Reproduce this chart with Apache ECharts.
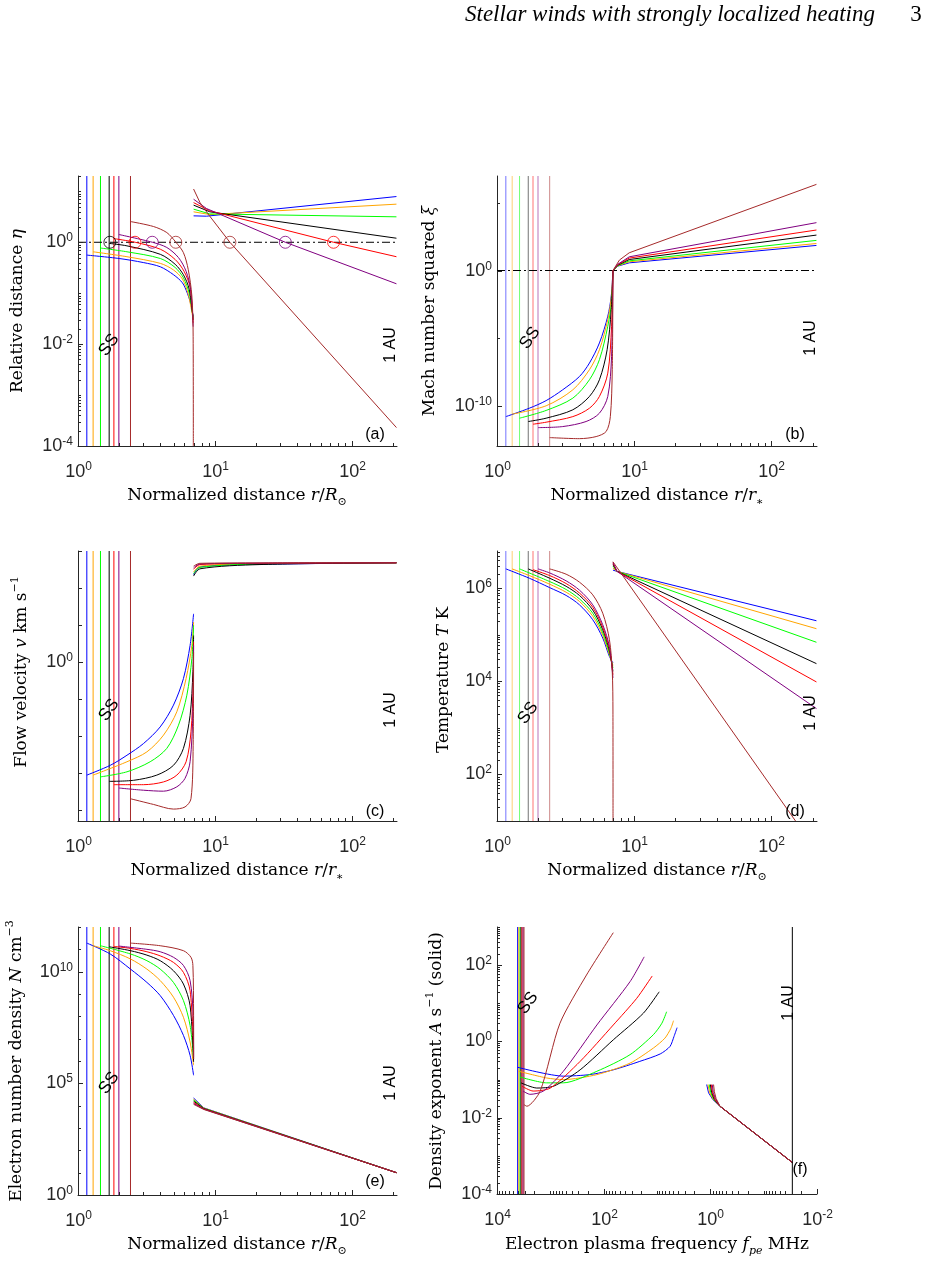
<!DOCTYPE html>
<html><head><meta charset="utf-8">
<script src="https://cdn.jsdelivr.net/npm/echarts@6/dist/echarts.min.js"></script>
<style>html,body{margin:0;padding:0;background:#fff}#c{width:941px;height:1262px}</style>
</head><body><div id="c"></div>
<script>
// ---------------- DATA ----------------
// source-surface radii (r / R_sun) of the seven models: blue, orange, green, black, red, purple, brown
const R_SS = [1.16, 1.29, 1.46, 1.69, 1.83, 1.99, 2.42];
// plasma frequency (MHz) at the source surface, panel (f)
const F_SS = [4100, 3900, 3700, 3550, 3400, 3250, 3120];
const R_1AU_END = 215;
const F_1AU = 0.029;

// (a) relative distance eta: inner branch (SS..7) and outer branch (7..1AU)
const aIn = [
  [[1.16,0.56],[2.0,0.48],[3.0,0.40],[4.0,0.33],[5.0,0.23],[5.8,0.16],[6.3,0.10],[6.7,0.060],[6.95,0.035]],
  [[1.29,0.65],[2.28,0.52],[4.0,0.385],[5.0,0.285],[5.8,0.19],[6.4,0.095],[6.95,0.030]],
  [[1.46,0.77],[2.28,0.65],[4.0,0.48],[5.13,0.32],[5.9,0.20],[6.5,0.10],[6.95,0.033]],
  [[1.69,0.95],[2.28,0.85],[4.0,0.58],[5.13,0.37],[5.9,0.23],[6.5,0.12],[6.95,0.030]],
  [[1.83,1.18],[2.62,1.0],[4.0,0.73],[5.13,0.46],[5.96,0.27],[6.6,0.13],[6.95,0.026]],
  [[1.99,1.42],[3.5,1.0],[4.46,0.79],[5.43,0.50],[6.17,0.27],[6.66,0.12],[6.95,0.022]],
  [[2.42,2.55],[3.56,2.04],[4.46,1.55],[5.2,1.0],[5.9,0.625],[6.4,0.29],[6.8,0.088],[6.95,0.014],[6.97,0.0001]]
];
const aOut = [
  [[7.0,3.3],[8.7,3.25],[213,7.9]],
  [[7.0,3.96],[9.2,3.5],[213,5.6]],
  [[7.0,4.47],[9.2,3.6],[213,3.16]],
  [[7.0,5.36],[9.2,3.96],[213,1.2]],
  [[7.0,6.0],[9.2,4.14],[73.9,1.0],[213,0.52]],
  [[7.0,7.0],[8.7,4.6],[32.8,1.0],[213,0.153]],
  [[7.0,11.1],[7.8,6.0],[9.0,3.5],[12.9,1.0],[213,2.3e-4]]
];
// (a) eta = 1 crossings (circles)
const aCircleR = [1.71, 2.61, 3.49, 5.19, 12.9, 32.8, 73.9];
const aCircleEta = [1, 1, 1, 1, 1, 1, 1];
const aCircleModel = [3, 4, 5, 6, 6, 5, 4];

// (b) Mach number squared xi
const bIn = [
  [[1.16,1.5e-11],[1.72,6.3e-11],[2.28,2.3e-10],[3.01,1.45e-9],[3.99,1.4e-8],[4.72,1.4e-7],[5.58,4.3e-6],[6.42,4.1e-4],[6.8,0.0125],[7.0,1]],
  [[1.29,2.3e-11],[2.28,9.5e-11],[3.57,1.45e-9],[4.72,4.5e-8],[5.58,1.35e-6],[6.42,2.3e-4],[6.8,9.3e-3],[7.0,1]],
  [[1.46,1.15e-11],[2.28,4.3e-11],[3.57,3.5e-10],[4.72,8.1e-9],[5.58,2.5e-7],[6.42,7.4e-5],[6.88,7.1e-3],[7.0,1]],
  [[1.69,6.5e-12],[2.28,1.15e-11],[3.57,4.8e-11],[4.72,4.7e-10],[5.58,8.1e-9],[6.35,1.35e-6],[6.8,1.26e-3],[7.0,1]],
  [[1.83,4.1e-12],[2.28,5.8e-12],[3.57,1.5e-11],[4.72,6.3e-11],[5.58,4.7e-10],[6.42,2.5e-8],[6.84,7.4e-5],[7.0,1]],
  [[1.99,2.3e-12],[3.01,2.75e-12],[4.46,6.5e-12],[5.58,2.7e-11],[6.42,4.7e-10],[6.84,4.4e-7],[7.0,1]],
  [[2.42,4.2e-13],[3.99,3.5e-13],[5.28,5e-13],[6.25,1.2e-12],[6.7,1.5e-11],[6.92,4.5e-8],[7.0,1]]
];
const bOut = [
  [[7.0,1],[7.6,2.1],[9.2,3.7],[213,72]],
  [[7.0,1],[7.6,2.2],[9.2,4.4],[213,100]],
  [[7.0,1],[7.6,2.3],[9.2,5.2],[213,170]],
  [[7.0,1],[7.6,2.5],[9.2,6.5],[213,420]],
  [[7.0,1],[7.6,2.7],[9.2,8.3],[213,1000]],
  [[7.0,1],[7.6,2.9],[9.2,10.3],[213,3500]],
  [[7.0,1],[7.8,5.9],[9.2,20.5],[213,2.4e6]]
];

// (c) flow velocity v (km/s)
const cIn = [
  [[1.16,8.7e-4],[1.72,1.6e-3],[2.28,3.0e-3],[3.01,6.2e-3],[3.99,0.0175],[4.99,0.068],[5.9,0.355],[6.6,2.8],[7.0,20]],
  [[1.29,8.7e-4],[2.28,2.0e-3],[3.19,3.7e-3],[4.22,0.0105],[5.28,0.045],[6.17,0.355],[6.8,2.8],[7.0,12]],
  [[1.46,7.8e-4],[2.28,1.07e-3],[3.37,2.0e-3],[4.46,4.6e-3],[5.43,0.0195],[6.25,0.126],[6.8,1.23],[7.0,9.8]],
  [[1.69,5.9e-4],[2.55,6.3e-4],[3.77,8.7e-4],[4.99,1.6e-3],[5.9,4.6e-3],[6.6,0.036],[6.92,0.54],[7.0,5.2]],
  [[1.83,4.8e-4],[3.01,4.8e-4],[4.22,5.7e-4],[5.28,8.7e-4],[6.17,2.0e-3],[6.7,0.0129],[6.95,0.234],[7.0,3.5]],
  [[1.99,3.9e-4],[3.01,3.4e-4],[4.22,3.2e-4],[5.28,4.2e-4],[6.06,7.1e-4],[6.6,2.0e-3],[6.92,0.045],[7.0,2.8]],
  [[2.42,2.0e-4],[3.57,1.4e-4],[4.99,1.05e-4],[6.06,1.2e-4],[6.7,2.0e-4],[6.95,5.6e-3],[7.0,1.86]]
];
const cOut = [
  [[7.0,230],[7.8,370],[21.4,435],[213,480]],
  [[7.0,270],[7.8,390],[21.4,455],[213,480]],
  [[7.0,245],[7.8,360],[21.4,445],[213,480]],
  [[7.0,210],[7.8,330],[21.4,430],[213,480]],
  [[7.0,320],[7.8,430],[21.4,465],[213,480]],
  [[7.0,350],[7.8,445],[21.4,470],[213,480]],
  [[7.0,390],[7.8,465],[21.4,475],[213,480]]
];

// (d) temperature T (K)
const dIn = [
  [[1.16,2.6e6],[1.72,1.64e6],[2.42,1.03e6],[3.19,7.0e5],[3.99,4.4e5],[4.99,2.1e5],[5.9,8.5e4],[6.6,3.4e4],[7.0,2.5e4]],
  [[1.29,2.6e6],[1.72,1.87e6],[2.42,1.22e6],[3.19,8.2e5],[3.99,5.2e5],[4.99,2.5e5],[5.9,9.7e4],[6.6,3.7e4],[7.0,2.2e4]],
  [[1.46,2.6e6],[2.42,1.39e6],[3.19,9.4e5],[3.99,5.9e5],[4.99,2.9e5],[5.9,1.1e5],[6.6,4.0e4],[7.0,1.93e4]],
  [[1.69,2.6e6],[2.42,1.64e6],[3.19,1.1e6],[3.99,7.0e5],[4.99,3.4e5],[5.9,1.28e5],[6.6,4.5e4],[7.0,1.64e4]],
  [[1.83,2.5e6],[2.42,1.87e6],[3.19,1.26e6],[3.99,7.9e5],[4.99,3.9e5],[5.9,1.44e5],[6.6,5.0e4],[7.0,1.39e4]],
  [[1.99,2.6e6],[2.42,2.13e6],[3.19,1.44e6],[3.99,9.1e5],[4.99,4.4e5],[5.9,1.64e5],[6.6,5.6e4],[7.0,1.18e4]],
  [[2.42,2.6e6],[3.19,2.0e6],[3.99,1.35e6],[4.99,7.2e5],[5.9,2.9e5],[6.6,7.8e4],[6.92,1.64e4],[7.0,2.3e3],[7.01,10]]
];
const dOut = [
  [[7.0,2.45e6],[7.5,2.3e6],[213,2.0e5]],
  [[7.0,2.7e6],[7.5,2.3e6],[213,1.35e5]],
  [[7.0,3.0e6],[7.5,2.3e6],[213,6.9e4]],
  [[7.0,3.2e6],[7.5,2.3e6],[213,2.4e4]],
  [[7.0,3.4e6],[7.5,2.3e6],[213,9.7e3]],
  [[7.0,3.6e6],[7.5,2.3e6],[213,2.6e3]],
  [[7.0,3.7e6],[150,10]]
];

// (e) electron number density N (cm^-3)
const eIn = [
  [[1.16,1.9e11],[1.72,6.2e10],[2.42,1.3e10],[3.19,3.3e9],[3.99,8.5e8],[4.99,1.1e8],[5.9,1.4e7],[6.6,1.8e6],[7.0,2.3e5]],
  [[1.29,1.45e11],[1.72,8.7e10],[2.42,3.7e10],[3.19,1.3e10],[3.99,4.0e9],[4.99,7.2e8],[5.9,9.1e7],[6.6,7.1e6],[7.0,6.5e5]],
  [[1.46,1.45e11],[2.42,6.2e10],[3.19,3.1e10],[3.99,1.3e10],[4.99,3.3e9],[5.9,5.1e8],[6.6,3.9e7],[7.0,1.3e6]],
  [[1.69,1.3e11],[2.42,8.7e10],[3.19,5.5e10],[3.99,3.1e10],[4.99,1.1e10],[5.9,2.8e9],[6.6,3.0e8],[7.0,9.1e5]],
  [[1.83,1.35e11],[2.42,1.1e11],[3.19,7.8e10],[3.99,5.1e10],[4.99,2.6e10],[5.9,9.3e9],[6.6,1.4e9],[7.0,3.5e6]],
  [[1.99,1.4e11],[3.19,1.0e11],[3.99,7.8e10],[4.99,4.4e10],[5.9,1.9e10],[6.6,4.0e9],[6.95,1.1e8],[7.0,1.5e6]],
  [[2.42,1.9e11],[3.99,1.45e11],[5.9,8.7e10],[6.7,4.4e10],[6.92,1.9e10],[7.0,1.1e8],[7.01,1.2e6]]
];
const eOut = [
  [[7.0,2.2e4],[8.3,8.0e3],[213,10]],
  [[7.0,1.95e4],[8.3,7.8e3],[213,10]],
  [[7.0,1.8e4],[8.3,7.6e3],[213,10]],
  [[7.0,1.6e4],[8.3,7.4e3],[213,10]],
  [[7.0,1.4e4],[8.3,7.2e3],[213,10]],
  [[7.0,1.26e4],[8.3,7.0e3],[213,10]],
  [[7.0,1.15e4],[8.3,6.8e3],[213,10]]
];

// (f) density exponent A (s^-1) versus plasma frequency (MHz)
const fIn = [
  [[4100,0.21],[570,0.123],[182,0.135],[66,0.18],[21,0.30],[8.7,0.47],[5.7,0.74],[4.8,1.35],[4.2,2.3]],
  [[3900,0.165],[1170,0.11],[570,0.10],[134,0.135],[32,0.27],[11.7,0.67],[7.1,1.22],[5.5,2.2],[4.9,3.5]],
  [[3700,0.117],[1170,0.082],[570,0.082],[134,0.165],[32,0.45],[11.7,1.5],[8.1,3.0],[6.6,6.0]],
  [[3550,0.082],[1800,0.06],[870,0.067],[276,0.18],[66,1.1],[18,5.5],[9.1,20]],
  [[3400,0.067],[2100,0.05],[1000,0.06],[276,0.30],[66,2.7],[24,13.5],[12.3,52]],
  [[3250,0.05],[2400,0.041],[1350,0.05],[570,0.165],[134,2.7],[32,37],[17.4,165]],
  [[3120,0.022],[2750,0.020],[1550,0.05],[660,3.0],[210,55],[66,710]]
];
const fOut = [
  [[1.17,0.074],[1.08,0.045],[0.9,0.030],[0.66,0.020],[0.029,6.7e-4]],
  [[1.11,0.074],[1.03,0.045],[0.88,0.030],[0.66,0.020],[0.029,6.7e-4]],
  [[1.05,0.074],[0.98,0.045],[0.86,0.030],[0.66,0.020],[0.029,6.7e-4]],
  [[1.0,0.074],[0.94,0.045],[0.84,0.030],[0.66,0.020],[0.029,6.7e-4]],
  [[0.96,0.074],[0.91,0.045],[0.82,0.030],[0.66,0.020],[0.029,6.7e-4]],
  [[0.92,0.074],[0.88,0.046],[0.80,0.031],[0.66,0.020],[0.029,6.7e-4]],
  [[0.87,0.074],[0.84,0.048],[0.78,0.032],[0.66,0.020],[0.029,6.7e-4]]
];

// tick labels (major ticks -> exponent label)
const X_MAJOR = [1, 10, 100];           const X_MAJOR_LAB = ['0', '1', '2'];
const A_Y_MAJOR = [1e-4, 1e-2, 1];       const A_Y_LAB = ['-4', '-2', '0'];
const B_Y_MAJOR = [1e-10, 1];            const B_Y_LAB = ['-10', '0'];
const B_Y_MINOR = [1e-5, 1e5];
const C_Y_MAJOR = [1];                   const C_Y_LAB = ['0'];
const C_Y_DECADES = [1e-4, 1e-3, 1e-2, 0.1, 10, 100, 1000];
const D_Y_MAJOR = [100, 1e4, 1e6];       const D_Y_LAB = ['2', '4', '6'];
const E_Y_MAJOR = [1, 1e5, 1e10];        const E_Y_LAB = ['0', '5', '10'];
const F_Y_MAJOR = [1e-4, 1e-2, 1, 100];  const F_Y_LAB = ['-4', '-2', '0', '2'];
const F_X_MAJOR = [1e4, 100, 1, 0.01];   const F_X_LAB = ['4', '2', '0', '-2'];

// ---------------- STYLE / LAYOUT ----------------
const COLORS = ['#0000ff', '#ffa500', '#00ff00', '#000000', '#ff0000', '#800080', '#a52a2a'];
const AX = '#262626';
const SANS = 'Liberation Sans, Arial, Helvetica, sans-serif';
const SERIF = 'DejaVu Serif, serif';
const GRIDS = [
  {left: 78, top: 176, width: 319, height: 270},
  {left: 497, top: 176, width: 320, height: 270},
  {left: 78, top: 551, width: 319, height: 270},
  {left: 497, top: 551, width: 320, height: 270},
  {left: 78, top: 927, width: 319, height: 268},
  {left: 497, top: 927, width: 320, height: 267}
];
const XR = [[1, 215], [1, 215], [1, 215], [1, 215], [1, 215], [0.01, 1e4]];
const YR = [[1e-4, 20], [1e-13, 1e7], [5e-5, 1e3], [10, 6.3e6], [1, 1e12], [1e-4, 1e3]];
// smoothing per panel: [inner branch, outer branch]
const SMOOTH = [[0.3, false], [0.3, false], [0.3, 0.3], [0.3, false], [0.3, false], [0.25, false]];

function minors(lo, hi, majors, withSub) {
  const out = [];
  const e0 = Math.floor(Math.log10(lo)), e1 = Math.ceil(Math.log10(hi));
  const ms = withSub ? [1, 2, 3, 4, 5, 6, 7, 8, 9] : [1];
  for (let e = e0; e <= e1; e++) {
    ms.forEach(m => {
      const v = m * Math.pow(10, e);
      if (v >= lo * 0.999 && v <= hi * 1.001 && !majors.some(M => Math.abs(M / v - 1) < 1e-6)) out.push(v);
    });
  }
  return out;
}

const TICK_RICH = {
  b: {fontSize: 18, fontFamily: SANS, lineHeight: 22, fill: AX, color: AX},
  s: {fontSize: 12, fontFamily: SANS, lineHeight: 10, verticalAlign: 'top', fill: AX, color: AX}
};
function tickText(exp) { return '{b|10}{s|' + exp + '}'; }

function ticksSeries(gi, axis, major, majorLab, minor, minorLen) {
  const ref = axis === 'x' ? YR[gi][0] : XR[gi][0];
  const items = [];
  major.forEach((v, i) => items.push({v: v, lab: majorLab[i], len: 5}));
  minor.forEach(v => items.push({v: v, lab: null, len: minorLen}));
  return {
    type: 'custom', coordinateSystem: 'cartesian2d', xAxisIndex: gi, yAxisIndex: gi,
    silent: true, clip: false, z: 20, animation: false,
    encode: {x: 0, y: 1},
    data: items.map(t => axis === 'x' ? [t.v, ref] : [ref, t.v]),
    renderItem: function (params, api) {
      const t = items[params.dataIndex];
      const cs = params.coordSys;
      const ch = [];
      if (axis === 'x') {
        const px = Math.round(api.coord([t.v, ref])[0]) + 0.5;
        const yb = cs.y + cs.height;
        ch.push({type: 'line', shape: {x1: px, y1: yb, x2: px, y2: yb - t.len}, style: {stroke: AX, lineWidth: 1}});
        if (t.lab !== null) ch.push({type: 'text', style: {text: tickText(t.lab), rich: TICK_RICH, x: px, y: yb + 15, align: 'center', verticalAlign: 'top'}});
      } else {
        const py = Math.round(api.coord([ref, t.v])[1]) + 0.5;
        const xl = cs.x;
        ch.push({type: 'line', shape: {x1: xl, y1: py, x2: xl + t.len, y2: py}, style: {stroke: AX, lineWidth: 1}});
        if (t.lab !== null) ch.push({type: 'text', style: {text: tickText(t.lab), rich: TICK_RICH, x: xl - 5, y: py, align: 'right', verticalAlign: 'middle'}});
      }
      return {type: 'group', children: ch};
    }
  };
}

function lineSeries(gi, data, color, extra) {
  return Object.assign({
    type: 'line', xAxisIndex: gi, yAxisIndex: gi, data: data,
    showSymbol: false, symbol: 'none', smooth: false,
    lineStyle: {color: color, width: 1}, itemStyle: {color: color},
    animation: false, silent: true, z: 5
  }, extra || {});
}

const series = [];
// SS vertical lines
for (let p = 0; p < 6; p++) {
  const pos = p === 5 ? F_SS : R_SS;
  const op = (p === 1 || p === 3) ? 0.55 : 1;
  pos.forEach((v, k) => {
    series.push(lineSeries(p, [[v, YR[p][0]], [v, YR[p][1]]], COLORS[k], {lineStyle: {color: COLORS[k], width: 1, opacity: op}, z: 3}));
  });
}
// curves
const PANELS = [[aIn, aOut], [bIn, bOut], [cIn, cOut], [dIn, dOut], [eIn, eOut], [fIn, fOut]];
PANELS.forEach((pd, p) => {
  for (let k = 0; k < 7; k++) {
    series.push(lineSeries(p, pd[0][k], COLORS[k], {smooth: SMOOTH[p][0]}));
    series.push(lineSeries(p, pd[1][k], COLORS[k], {smooth: SMOOTH[p][1]}));
  }
});
// dash-dot reference lines at 1 in (a) and (b)
[0, 1].forEach(p => {
  series.push(lineSeries(p, [[XR[p][0], 1], [XR[p][1], 1]], '#000', {lineStyle: {color: '#000', width: 1, type: [8, 3, 2, 3]}, z: 4}));
});
// circles in (a)
series.push({
  type: 'scatter', xAxisIndex: 0, yAxisIndex: 0, symbol: 'circle', symbolSize: 12, silent: true, animation: false, z: 8,
  data: aCircleR.map((r, i) => ({value: [r, aCircleEta[i]], itemStyle: {color: 'rgba(0,0,0,0)', borderColor: COLORS[aCircleModel[i]], borderWidth: 1}}))
});
// 1 AU line in (f)
series.push(lineSeries(5, [[F_1AU, YR[5][0]], [F_1AU, YR[5][1]]], '#000', {z: 6}));

// ticks
for (let p = 0; p < 5; p++) series.push(ticksSeries(p, 'x', X_MAJOR, X_MAJOR_LAB, minors(1, R_1AU_END, X_MAJOR, true), 3));
series.push(ticksSeries(5, 'x', F_X_MAJOR, F_X_LAB, minors(0.01, 1e4, F_X_MAJOR, true), 3));
series.push(ticksSeries(0, 'y', A_Y_MAJOR, A_Y_LAB, minors(1e-4, 20, A_Y_MAJOR, true), 3));
series.push(ticksSeries(1, 'y', B_Y_MAJOR, B_Y_LAB, B_Y_MINOR, 3));
series.push(ticksSeries(2, 'y', C_Y_MAJOR, C_Y_LAB, C_Y_DECADES, 4));
series.push(ticksSeries(3, 'y', D_Y_MAJOR, D_Y_LAB, minors(10, 6.3e6, D_Y_MAJOR, true), 3));
series.push(ticksSeries(4, 'y', E_Y_MAJOR, E_Y_LAB, minors(1, 1e12, E_Y_MAJOR, false), 3));
series.push(ticksSeries(5, 'y', F_Y_MAJOR, F_Y_LAB, minors(1e-4, 1e3, F_Y_MAJOR, true), 3));

// ---------------- TEXT ----------------
const TR = {
  n: {fontFamily: SERIF, fontSize: 17, lineHeight: 24, fill: '#000'},
  i: {fontFamily: SERIF, fontSize: 17, fontStyle: 'italic', lineHeight: 24, fill: '#000'},
  sup: {fontFamily: SERIF, fontSize: 11, lineHeight: 12, verticalAlign: 'top', fill: '#000'},
  sub: {fontFamily: SERIF, fontSize: 11, lineHeight: 10, verticalAlign: 'bottom', fill: '#000'},
  subi: {fontFamily: SERIF, fontSize: 11, fontStyle: 'italic', lineHeight: 10, verticalAlign: 'bottom', fill: '#000'}
};
function gt(x, y, text, opt) {
  opt = opt || {};
  const al = opt.align || 'center';
  return {
    type: 'text', x: x, y: y, rotation: opt.rot || 0, silent: true, z: 30,
    style: {
      text: text, rich: opt.rich, fill: '#000',
      fontSize: opt.size || 16, fontFamily: opt.family || SANS, fontStyle: opt.style || 'normal',
      align: al, textAlign: al, verticalAlign: 'middle', textVerticalAlign: 'middle'
    }
  };
}
const XT_SUN = '{n|Normalized distance }{i|r}{n|/}{i|R}{sub|⊙}';
const XT_STAR = '{n|Normalized distance }{i|r}{n|/}{i|r}{sub|∗}';
const graphic = [
  gt(465, 15, 'Stellar winds with strongly localized heating', {align: 'left', size: 23, family: 'Liberation Serif, serif', style: 'italic'}),
  gt(916, 15, '3', {size: 23, family: 'Liberation Serif, serif'}),
  // x titles
  gt(237, 496, XT_SUN, {rich: TR}),
  gt(657, 496, XT_STAR, {rich: TR}),
  gt(237, 871, XT_STAR, {rich: TR}),
  gt(657, 871, XT_SUN, {rich: TR}),
  gt(237, 1245, XT_SUN, {rich: TR}),
  gt(657, 1245, '{n|Electron plasma frequency }{i|f}{subi|pe}{n| MHz}', {rich: TR}),
  // y titles
  gt(18, 311, '{n|Relative distance }{i|η}', {rich: TR, rot: Math.PI / 2}),
  gt(430, 311, '{n|Mach number squared }{i|ξ}', {rich: TR, rot: Math.PI / 2}),
  gt(22, 672, '{n|Flow velocity }{i|v}{n| km s}{sup|−1}', {rich: TR, rot: Math.PI / 2}),
  gt(444, 680, '{n|Temperature }{i|T}{n| K}', {rich: TR, rot: Math.PI / 2}),
  gt(17, 1061, '{n|Electron number density }{i|N}{n| cm}{sup|−3}', {rich: TR, rot: Math.PI / 2}),
  gt(437, 1061, '{n|Density exponent }{i|A}{n| s}{sup|−1}{n| (solid)}', {rich: TR, rot: Math.PI / 2}),
  // SS labels
  gt(109, 345, 'SS', {rot: 0.95, size: 17}), gt(530, 338, 'SS', {rot: 0.95, size: 17}),
  gt(109, 710, 'SS', {rot: 0.95, size: 17}), gt(528, 713, 'SS', {rot: 0.95, size: 17}),
  gt(109, 1083, 'SS', {rot: 0.95, size: 17}), gt(528, 1003, 'SS', {rot: 0.95, size: 17}),
  // 1 AU labels
  gt(391, 345, '1 AU', {rot: Math.PI / 2}), gt(811, 338, '1 AU', {rot: Math.PI / 2}),
  gt(391, 710, '1 AU', {rot: Math.PI / 2}), gt(811, 713, '1 AU', {rot: Math.PI / 2}),
  gt(391, 1083, '1 AU', {rot: Math.PI / 2}), gt(789, 1003, '1 AU', {rot: Math.PI / 2}),
  // panel letters
  gt(375, 435, '(a)'), gt(795, 435, '(b)'), gt(375, 812, '(c)'),
  gt(795, 812, '(d)'), gt(375, 1182, '(e)'), gt(800, 1170, '(f)')
];

// ---------------- CHART ----------------
const axisBase = {
  type: 'log', logBase: 10,
  axisLine: {show: true, onZero: false, lineStyle: {color: AX, width: 1}},
  axisTick: {show: false}, axisLabel: {show: false},
  splitLine: {show: false}, minorTick: {show: false}, minorSplitLine: {show: false}
};
const chart = echarts.init(document.getElementById('c'), null, {renderer: 'canvas'});
chart.setOption({
  animation: false,
  backgroundColor: '#fff',
  grid: GRIDS,
  xAxis: GRIDS.map((g, i) => Object.assign({}, axisBase, {gridIndex: i, min: XR[i][0], max: XR[i][1], inverse: i === 5})),
  yAxis: GRIDS.map((g, i) => Object.assign({}, axisBase, {gridIndex: i, min: YR[i][0], max: YR[i][1]})),
  series: series,
  graphic: graphic
});
</script></body></html>
